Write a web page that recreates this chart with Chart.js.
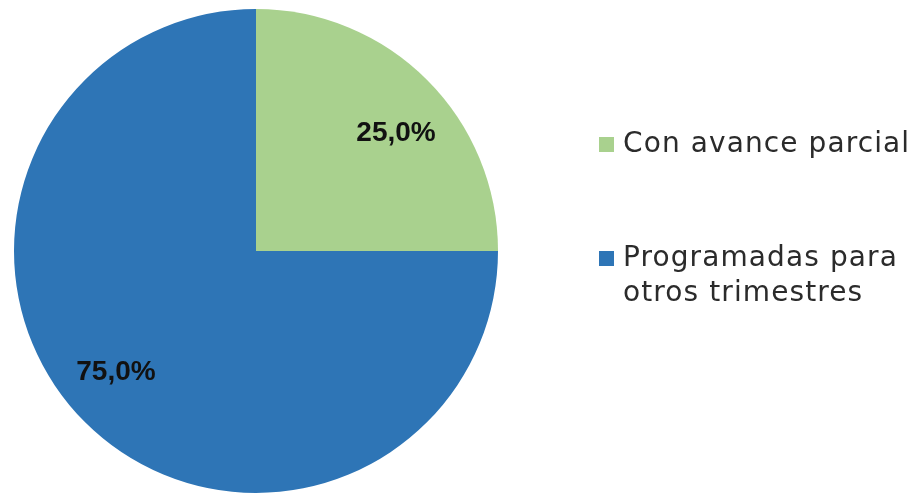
<!DOCTYPE html>
<html>
<head>
<meta charset="utf-8">
<script src="https://cdn.jsdelivr.net/npm/chart.js@4.4.0/dist/chart.umd.min.js"></script>
<style>
    html, body { margin: 0; padding: 0; background: #ffffff; }
    #wrap { width: 916px; height: 494px; position: relative; }
</style>
</head>
<body>
<div id="wrap"><canvas id="pieChart"></canvas></div>
<script>
const categories = ['Con avance parcial', ['Programadas para', 'otros trimestres']];
const values = [25.0, 75.0];
const sliceColors = ['#a9d18e', '#2e75b6'];

// labels inside the slices, like "25,0%"
const sliceLabels = {
    id: 'sliceLabels',
    afterDatasetsDraw(chart) {
        const ctx = chart.ctx;
        const meta = chart.getDatasetMeta(0);
        const total = values.reduce((a, b) => a + b, 0);
        ctx.save();
        ctx.font = 'bold 28px "Liberation Sans", Arial, sans-serif';
        ctx.fillStyle = '#111111';
        ctx.textAlign = 'center';
        ctx.textBaseline = 'middle';
        meta.data.forEach((arc, i) => {
            const mid = (arc.startAngle + arc.endAngle) / 2 + 0.08;
            const r = arc.outerRadius * 0.76;
            const x = arc.x + Math.cos(mid) * r;
            const y = arc.y + Math.sin(mid) * r + 2;
            const txt = (values[i] / total * 100).toFixed(1).replace('.', ',') + '%';
            ctx.fillText(txt, x, y);
        });
        ctx.restore();
    }
};

// legend on the right, second entry on two lines
const sideLegend = {
    id: 'sideLegend',
    afterDraw(chart) {
        const ctx = chart.ctx;
        const x0 = 599;
        const rows = [145, 259];
        ctx.save();
        ctx.font = '28px "DejaVu Sans", sans-serif';
        ctx.letterSpacing = '1.1px';
        ctx.textBaseline = 'middle';
        ctx.textAlign = 'left';
        categories.forEach((cat, i) => {
            ctx.fillStyle = sliceColors[i];
            ctx.fillRect(x0, rows[i] - 8, 15, 15);
            ctx.fillStyle = '#2b2b2b';
            const lines = Array.isArray(cat) ? cat : [cat];
            lines.forEach((ln, j) => {
                ctx.fillText(ln, x0 + 24, rows[i] + j * 35);
            });
        });
        ctx.restore();
    }
};

const ctxEl = document.getElementById('pieChart');
new Chart(ctxEl, {
    type: 'pie',
    data: {
        labels: categories,
        datasets: [{
            data: values,
            backgroundColor: sliceColors,
            borderWidth: 0
        }]
    },
    options: {
        responsive: true,
        maintainAspectRatio: false,
        animation: false,
        layout: {
            padding: { left: 14, top: 9, right: 418, bottom: 1 }
        },
        plugins: {
            legend: { display: false },
            tooltip: { enabled: false }
        }
    },
    plugins: [sliceLabels, sideLegend]
});
</script>
</body>
</html>
